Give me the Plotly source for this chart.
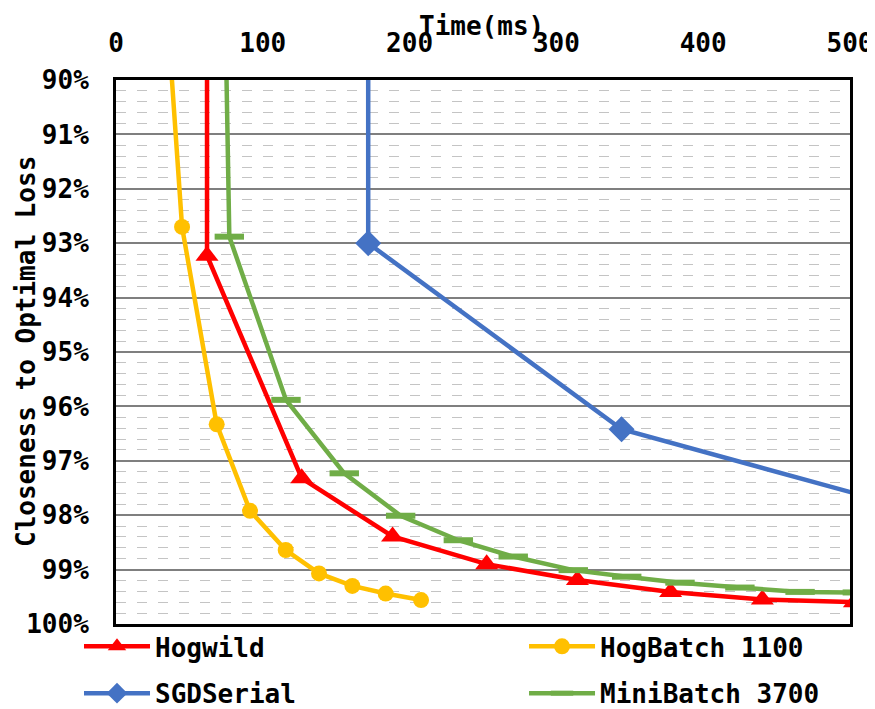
import plotly.graph_objects as go

# ---- data ----
hogwild_x = [62, 62, 126.5, 188.4, 252.5, 314.3, 377.8, 440.3, 503]
hogwild_y = [80, 93.23, 97.32, 98.39, 98.90, 99.19, 99.41, 99.55, 99.60]

hogbatch_x = [33, 45, 68.6, 91.3, 115.6, 138.3, 161, 183.7, 207.8]
hogbatch_y = [88, 92.70, 96.33, 97.92, 98.64, 99.07, 99.30, 99.44, 99.56]

sgd_x = [171.8, 171.8, 344.4, 517]
sgd_y = [80, 93.0, 96.42, 97.70]

mini_x = [72, 77.2, 115.8, 155.5, 193.9, 233.2, 270.6, 311.5, 347.9, 384.2, 425, 466, 505]
mini_y = [85, 92.88, 95.88, 97.23, 98.01, 98.46, 98.76, 99.01, 99.13, 99.24, 99.33, 99.41, 99.42]

x_ticks = [0, 100, 200, 300, 400, 500]
y_ticks = [90, 91, 92, 93, 94, 95, 96, 97, 98, 99, 100]
y_ticklabels = [f"{v}%" for v in y_ticks]

FONT = "DejaVu Sans Mono"
FS = 26

fig = go.Figure()

fig.add_trace(go.Scatter(
    x=hogwild_x, y=hogwild_y, name="Hogwild", mode="lines+markers",
    line=dict(color="#FF0000", width=4.5),
    marker=dict(symbol="triangle-up", size=20, color="#FF0000"),
    legend="legend", legendgroup="a"))
fig.add_trace(go.Scatter(
    x=hogbatch_x, y=hogbatch_y, name="HogBatch 1100", mode="lines+markers",
    line=dict(color="#FFC000", width=4.5),
    marker=dict(symbol="circle", size=16, color="#FFC000"),
    legend="legend2", legendgroup="b"))
fig.add_trace(go.Scatter(
    x=sgd_x, y=sgd_y, name="SGDSerial", mode="lines+markers",
    line=dict(color="#4472C4", width=4.5),
    marker=dict(symbol="diamond", size=20, color="#4472C4"),
    legend="legend", legendgroup="c"))
fig.add_trace(go.Scatter(
    x=mini_x, y=mini_y, name="MiniBatch 3700", mode="lines+markers",
    line=dict(color="#70AD47", width=4.5),
    marker=dict(symbol="line-ew", size=21, color="#70AD47",
                line=dict(color="#70AD47", width=6)),
    legend="legend2", legendgroup="d"))

legend_common = dict(yanchor="top", orientation="v", itemwidth=66,
                     tracegroupgap=10, bgcolor="rgba(0,0,0,0)",
                     font=dict(family=FONT, size=FS, weight="bold"))

# the page body has an 8px margin, so margins are offset by 8px
fig.update_layout(
    width=875, height=709,
    margin=dict(l=108, r=33, t=72, b=93, autoexpand=False),
    paper_bgcolor="white", plot_bgcolor="white",
    font=dict(family=FONT, size=FS, color="black", weight="bold"),
    legend=dict(x=-0.0504, xanchor="left", y=0.0019, **legend_common),
    legend2=dict(x=0.5559, xanchor="left", y=0.0019, **legend_common),
    xaxis=dict(range=[0, 500], side="top", tickvals=x_ticks,
               showgrid=False, zeroline=False, ticks="", automargin=False,
               showline=True, linecolor="black", linewidth=3, mirror=True,
               tickfont=dict(family=FONT, size=FS, weight="bold"),
               ticklabelstandoff=15),
    yaxis=dict(range=[100, 90], tickvals=y_ticks, ticktext=y_ticklabels,
               showgrid=True, gridcolor="#7f7f7f", gridwidth=1.5,
               zeroline=False, ticks="", automargin=False,
               showline=True, linecolor="black", linewidth=3, mirror=True,
               tickfont=dict(family=FONT, size=FS, weight="bold"),
               ticklabelstandoff=19,
               minor=dict(dtick=0.2, showgrid=True, gridcolor="#c4c4c4",
                          griddash="10px,11px", gridwidth=1.3)),
    annotations=[
        dict(text="Time(ms)", xref="paper", yref="paper", x=0.498, y=1.099,
             xanchor="center", yanchor="middle", showarrow=False,
             font=dict(family=FONT, size=FS, weight="bold")),
        dict(text="Closeness to Optimal Loss", xref="paper", yref="paper",
             x=-0.1226, y=0.5, xanchor="center", yanchor="middle",
             textangle=-90, showarrow=False,
             font=dict(family=FONT, size=FS, weight="bold")),
    ],
)

fig.write_html("out.html")
